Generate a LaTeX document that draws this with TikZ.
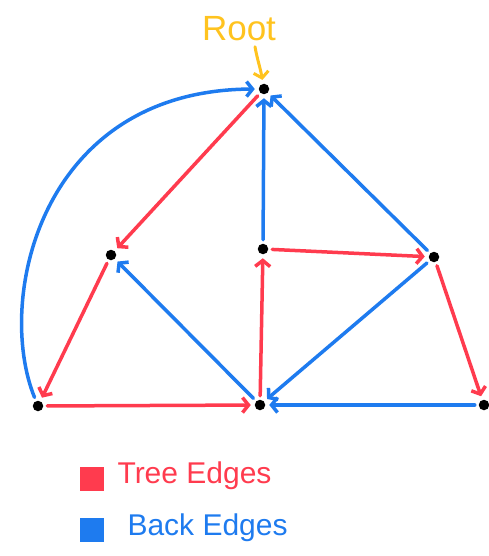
\documentclass[tikz,border=0pt]{standalone}
\usepackage{fontspec}
\setmainfont{Liberation Sans}
\usetikzlibrary{arrows.meta}
\definecolor{treered}{HTML}{FF3B4E}
\definecolor{backblue}{HTML}{1E7BEF}
\definecolor{rootyellow}{HTML}{FFC31F}
\tikzset{
  vertex/.style={circle, fill=black, inner sep=0pt, minimum size=10.5pt, outer sep=4pt},
  edge/.style={line width=3.5pt, line cap=round, line join=round,
    -{Straight Barb[length=6pt,width=15pt]}},
  treeedge/.style={edge, treered},
  backedge/.style={edge, backblue},
  legbox/.style={minimum size=24pt, inner sep=0pt},
  legtext/.style={anchor=west, font=\fontsize{30}{30}\selectfont}
}

\begin{document}
\begin{tikzpicture}[x=1pt,y=-1pt]
    \useasboundingbox (0,0) rectangle (488,556);

    % Vértices
    \node[vertex] (root) at (264,89) {};
    \node[vertex] (left) at (111,255) {};
    \node[vertex] (center) at (263,249) {};
    \node[vertex] (right) at (434,257) {};
    \node[vertex] (botleft) at (38,406) {};
    \node[vertex] (botmid) at (260,405) {};
    \node[vertex] (botright) at (484,405) {};

    % Raiz
    \node[rootyellow, font=\fontsize{35}{35}\selectfont] (rootlabel) at (239,29) {Root};
    \draw[edge, rootyellow, line width=3pt] ([xshift=16pt,yshift=-2pt]rootlabel.south)
        to[out=-80,in=100] (root);

    % Arestas da árvore
    \draw[treeedge] (root) -- (left);
    \draw[treeedge] (left) -- (botleft);
    \draw[treeedge] (botleft) -- (botmid);
    \draw[treeedge] (botmid) -- (center);
    \draw[treeedge] (center) -- (right);
    \draw[treeedge] (right) -- (botright);

    % Arestas de retorno
    \draw[backedge] (botleft) .. controls (-5,300) and (40,90) .. (root);
    \draw[backedge] (botmid) -- (left);
    \draw[backedge] (center) -- (root);
    \draw[backedge] (right) -- (root);
    \draw[backedge] (right) -- (botmid);
    \draw[backedge] (botright) -- (botmid);

    % Legenda
    \node[legbox, fill=treered] (treekey) at (92,479) {};
    \node[legtext, treered] (treetext) at (114,476) {Tree Edges};
    \node[legbox, fill=backblue] (backkey) at (92,530) {};
    \node[legtext, backblue] (backtext) at (124,528) {Back Edges};
\end{tikzpicture}
\end{document}
